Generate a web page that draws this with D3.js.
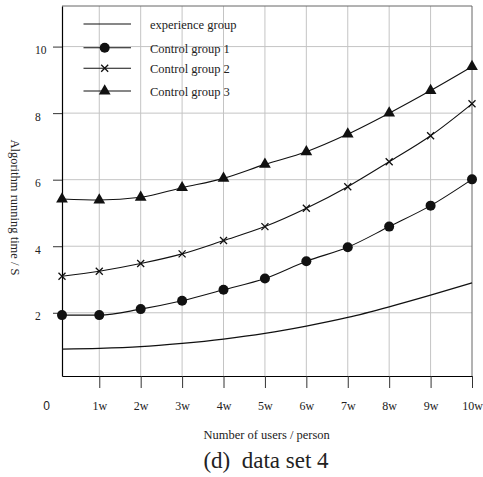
<!DOCTYPE html>
<html>
<head>
<meta charset="utf-8">
<script src="https://cdn.jsdelivr.net/npm/d3@7"></script>
<style>
  body { margin: 0; background: #fff; }
  svg { display: block; font-family: "Liberation Serif", "Times New Roman", serif; }
</style>
</head>
<body>
<div id="plot"></div>
<script>
// --- Data ---
const xValues = [0.1, 1, 2, 3, 4, 5, 6, 7, 8, 9, 10];
const xTickValues = [1, 2, 3, 4, 5, 6, 7, 8, 9, 10];
const xTickLabels = ["1w", "2w", "3w", "4w", "5w", "6w", "7w", "8w", "9w", "10w"];
const yTickValues = [2, 4, 6, 8, 10];

const experienceGroup = [0.91, 0.93, 0.98, 1.08, 1.21, 1.38, 1.60, 1.86, 2.18, 2.53, 2.90];
const controlGroup1 = [1.93, 1.93, 2.11, 2.36, 2.69, 3.03, 3.55, 3.97, 4.59, 5.22, 6.01];
const controlGroup2 = [3.10, 3.25, 3.48, 3.77, 4.17, 4.59, 5.14, 5.79, 6.54, 7.32, 8.28];
const controlGroup3 = [5.42, 5.39, 5.47, 5.76, 6.04, 6.46, 6.84, 7.37, 8.00, 8.68, 9.40];

const seriesNames = ["experience group", "Control group 1", "Control group 2", "Control group 3"];
const seriesMarkers = ["none", "circle", "cross", "triangle"];
const seriesValues = [experienceGroup, controlGroup1, controlGroup2, controlGroup3];

// --- Layout ---
const W = 483, H = 477;
const margin = { top: 6, right: 11, bottom: 101, left: 62 };
const width = W - margin.left - margin.right;
const height = H - margin.top - margin.bottom;

const svg = d3.select("#plot").append("svg")
  .attr("width", W)
  .attr("height", H);

const g = svg.append("g")
  .attr("transform", `translate(${margin.left},${margin.top})`);

// --- Scales ---
const x = d3.scaleLinear().domain([0.1, 10]).range([0, width]);
const y = d3.scaleLinear().domain([0.1, 11.22]).range([height, 0]);

// --- Grid ---
g.append("g").selectAll("line")
  .data(xTickValues.filter(d => d < 10))
  .join("line")
  .attr("x1", d => x(d)).attr("x2", d => x(d))
  .attr("y1", 0).attr("y2", height)
  .attr("stroke", "#c4c4c4").attr("stroke-width", 1);

g.append("g").selectAll("line")
  .data(yTickValues)
  .join("line")
  .attr("x1", 0).attr("x2", width)
  .attr("y1", d => y(d)).attr("y2", d => y(d))
  .attr("stroke", "#c4c4c4").attr("stroke-width", 1);

// frame top/right
g.append("path")
  .attr("d", `M0,0H${width}V${height}`)
  .attr("fill", "none").attr("stroke", "#666").attr("stroke-width", 1);

// --- Axes ---
const xAxis = d3.axisBottom(x)
  .tickValues(xTickValues)
  .tickSize(12)
  .tickSizeOuter(0)
  .tickFormat((d, i) => xTickLabels[i]);

const xAxisG = g.append("g")
  .attr("transform", `translate(0,${height})`)
  .call(xAxis);
xAxisG.select(".domain").attr("stroke", "#000").attr("stroke-width", 1.2);
xAxisG.selectAll(".tick line").attr("stroke", "#333");
xAxisG.selectAll(".tick text")
  .attr("y", 34).attr("dy", null)
  .attr("font-size", 12).attr("font-family", "Liberation Serif").attr("fill", "#222");

// origin label
xAxisG.append("text")
  .attr("x", -15.3).attr("y", 34)
  .attr("text-anchor", "middle")
  .attr("font-size", 12).attr("fill", "#222")
  .text("0");

const yAxis = d3.axisLeft(y)
  .tickValues(yTickValues)
  .tickSize(9)
  .tickSizeOuter(0);

const yAxisG = g.append("g").call(yAxis);
yAxisG.select(".domain").attr("stroke", "#000").attr("stroke-width", 1.2);
yAxisG.selectAll(".tick line").attr("stroke", "#333");
yAxisG.selectAll(".tick text")
  .attr("x", -27).attr("dy", "0.6em")
  .attr("text-anchor", "start")
  .attr("font-size", 11.5).attr("font-family", "Liberation Serif").attr("fill", "#222");

// --- Axis titles ---
svg.append("text")
  .attr("transform", `translate(11,207.5) rotate(90)`)
  .attr("text-anchor", "middle")
  .attr("font-size", 12.5).attr("fill", "#222")
  .text("Algorithm running time / S");

svg.append("text")
  .attr("x", 266.7).attr("y", 439.3)
  .attr("text-anchor", "middle")
  .attr("font-size", 12.5).attr("fill", "#222")
  .text("Number of users / person");

svg.append("text")
  .attr("x", 266).attr("y", 468)
  .attr("text-anchor", "middle")
  .attr("font-size", 23).attr("fill", "#222")
  .attr("xml:space", "preserve")
  .style("white-space", "pre")
  .text("(d)  data set 4");

// --- Marker drawing ---
function drawMarker(sel, type) {
  if (type === "circle") {
    sel.append("circle").attr("r", 5).attr("fill", "#111");
  } else if (type === "cross") {
    sel.append("path").attr("d", "M-3.5,-3.5L3.5,3.5M-3.5,3.5L3.5,-3.5")
      .attr("stroke", "#111").attr("stroke-width", 1.3).attr("fill", "none");
  } else if (type === "triangle") {
    sel.append("path").attr("d", d3.symbol().type(d3.symbolTriangle).size(60)())
      .attr("fill", "#111");
  }
}

// --- Lines & points ---
const line = d3.line()
  .x((d, i) => x(xValues[i]))
  .y(d => y(d))
  .curve(d3.curveMonotoneX);

seriesValues.forEach((vals, si) => {
  g.append("path")
    .datum(vals)
    .attr("d", line)
    .attr("fill", "none")
    .attr("stroke", "#111")
    .attr("stroke-width", si === 0 ? 1.3 : 1.1);

  if (seriesMarkers[si] !== "none") {
    vals.forEach((v, i) => {
      const m = g.append("g").attr("transform", `translate(${x(xValues[i])},${y(v)})`);
      drawMarker(m, seriesMarkers[si]);
    });
  }
});

// --- Legend ---
const legendYs = [24, 47.7, 68.3, 91];
const legend = svg.append("g");
seriesNames.forEach((name, i) => {
  const ly = legendYs[i];
  legend.append("line")
    .attr("x1", 83.5).attr("x2", 131).attr("y1", ly).attr("y2", ly)
    .attr("stroke", "#111").attr("stroke-width", 1.1);
  const m = legend.append("g").attr("transform", `translate(104.7,${ly})`);
  drawMarker(m, seriesMarkers[i]);
  legend.append("text")
    .attr("x", 150).attr("y", ly + 5)
    .attr("font-size", 12.5).attr("fill", "#222")
    .text(name);
});
</script>
</body>
</html>
